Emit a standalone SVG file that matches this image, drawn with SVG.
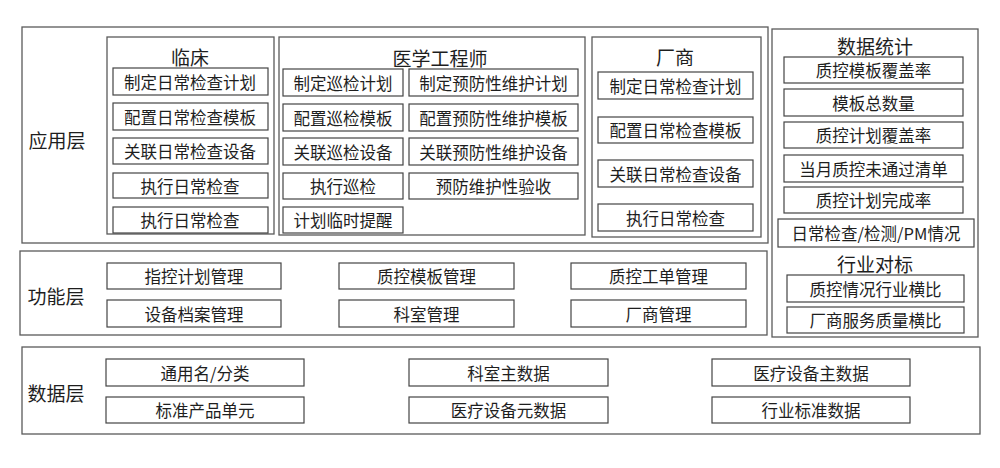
<svg xmlns="http://www.w3.org/2000/svg" width="1000" height="468" viewBox="0 0 1000 468">
<style>
text{font-family:"Noto Sans CJK SC","Microsoft YaHei",sans-serif;fill:#1e1e1e;text-anchor:middle;dominant-baseline:central}
.frame{fill:#fff;stroke:#5a5a5a;stroke-width:1.3}
.box{fill:#fff;stroke:#444;stroke-width:1.2}
.t{font-size:16.5px}
.h{font-size:19px}
.lab{font-size:19px}
</style>
<rect width="1000" height="468" fill="#fff"/>

<g id="app-layer">
<rect class="frame" x="22" y="27" width="746" height="216"/>
<text class="lab" x="57" y="139">应用层</text>
</g>

<g id="clinical">
<rect class="frame" x="107" y="37" width="167" height="197"/>
<text class="h" x="190" y="56">临床</text>
<rect class="box" x="113" y="68" width="155" height="27"/><text class="t" x="190" y="81.5">制定日常检查计划</text>
<rect class="box" x="113" y="103" width="155" height="27"/><text class="t" x="190" y="116.5">配置日常检查模板</text>
<rect class="box" x="113" y="138" width="155" height="26"/><text class="t" x="190" y="151">关联日常检查设备</text>
<rect class="box" x="113" y="173" width="155" height="25"/><text class="t" x="190" y="185.5">执行日常检查</text>
<rect class="box" x="113" y="207" width="155" height="26"/><text class="t" x="190" y="220">执行日常检查</text>
</g>

<g id="engineer">
<rect class="frame" x="279" y="37" width="306" height="198"/>
<text class="h" x="440" y="57">医学工程师</text>
<rect class="box" x="283" y="69" width="120" height="27"/><text class="t" x="343" y="82.5">制定巡检计划</text>
<rect class="box" x="409" y="69" width="169" height="27"/><text class="t" x="493.5" y="82.5">制定预防性维护计划</text>
<rect class="box" x="283" y="104" width="120" height="27"/><text class="t" x="343" y="117.5">配置巡检模板</text>
<rect class="box" x="409" y="104" width="169" height="27"/><text class="t" x="493.5" y="117.5">配置预防性维护模板</text>
<rect class="box" x="283" y="138" width="120" height="27"/><text class="t" x="343" y="151.5">关联巡检设备</text>
<rect class="box" x="409" y="138" width="169" height="27"/><text class="t" x="493.5" y="151.5">关联预防性维护设备</text>
<rect class="box" x="283" y="173" width="120" height="26"/><text class="t" x="343" y="186">执行巡检</text>
<rect class="box" x="409" y="173" width="169" height="26"/><text class="t" x="493.5" y="186">预防维护性验收</text>
<rect class="box" x="283" y="207" width="120" height="26"/><text class="t" x="343" y="220">计划临时提醒</text>
</g>

<g id="vendor">
<rect class="frame" x="592" y="37" width="169" height="200"/>
<text class="h" x="675" y="56">厂商</text>
<rect class="box" x="598" y="72" width="155" height="27"/><text class="t" x="675.5" y="85.5">制定日常检查计划</text>
<rect class="box" x="598" y="117" width="155" height="26"/><text class="t" x="675.5" y="130">配置日常检查模板</text>
<rect class="box" x="598" y="160" width="155" height="27"/><text class="t" x="675.5" y="173.5">关联日常检查设备</text>
<rect class="box" x="598" y="204" width="155" height="27"/><text class="t" x="675.5" y="217.5">执行日常检查</text>
</g>

<g id="func-layer">
<rect class="frame" x="20" y="251" width="747" height="84"/>
<text class="lab" x="56" y="295">功能层</text>
<rect class="box" x="107" y="263" width="174" height="26"/><text class="t" x="194" y="276">指控计划管理</text>
<rect class="box" x="107" y="300" width="174" height="27"/><text class="t" x="194" y="313.5">设备档案管理</text>
<rect class="box" x="339" y="263" width="175" height="26"/><text class="t" x="426.5" y="276">质控模板管理</text>
<rect class="box" x="339" y="300" width="175" height="27"/><text class="t" x="426.5" y="313.5">科室管理</text>
<rect class="box" x="571" y="263" width="175" height="26"/><text class="t" x="658.5" y="276">质控工单管理</text>
<rect class="box" x="571" y="300" width="175" height="27"/><text class="t" x="658.5" y="313.5">厂商管理</text>
</g>

<g id="stats">
<rect class="frame" x="772" y="29" width="206" height="308"/>
<text class="h" x="875" y="45">数据统计</text>
<rect class="box" x="784" y="57" width="179" height="26"/><text class="t" x="873.5" y="70">质控模板覆盖率</text>
<rect class="box" x="784" y="89" width="179" height="27"/><text class="t" x="873.5" y="102.5">模板总数量</text>
<rect class="box" x="784" y="122" width="179" height="26"/><text class="t" x="873.5" y="135">质控计划覆盖率</text>
<rect class="box" x="784" y="155" width="179" height="27"/><text class="t" x="873.5" y="168.5">当月质控未通过清单</text>
<rect class="box" x="784" y="187" width="179" height="26"/><text class="t" x="873.5" y="200">质控计划完成率</text>
<rect class="box" x="778" y="219" width="196" height="28"/><text class="t" x="876" y="233">日常检查/检测/PM情况</text>
<text class="h" x="875" y="263">行业对标</text>
<rect class="box" x="787" y="275" width="177" height="27"/><text class="t" x="875.5" y="288.5">质控情况行业横比</text>
<rect class="box" x="787" y="307" width="177" height="26"/><text class="t" x="875.5" y="320">厂商服务质量横比</text>
</g>

<g id="data-layer">
<rect class="frame" x="22" y="347" width="958" height="87"/>
<text class="lab" x="56" y="392">数据层</text>
<rect class="box" x="106" y="359" width="198" height="27"/><text class="t" x="205" y="372.5">通用名/分类</text>
<rect class="box" x="106" y="397" width="198" height="26"/><text class="t" x="205" y="410">标准产品单元</text>
<rect class="box" x="409" y="359" width="199" height="27"/><text class="t" x="508.5" y="372.5">科室主数据</text>
<rect class="box" x="409" y="397" width="199" height="26"/><text class="t" x="508.5" y="410">医疗设备元数据</text>
<rect class="box" x="712" y="359" width="198" height="27"/><text class="t" x="811" y="372.5">医疗设备主数据</text>
<rect class="box" x="712" y="397" width="198" height="26"/><text class="t" x="811" y="410">行业标准数据</text>
</g>
</svg>
